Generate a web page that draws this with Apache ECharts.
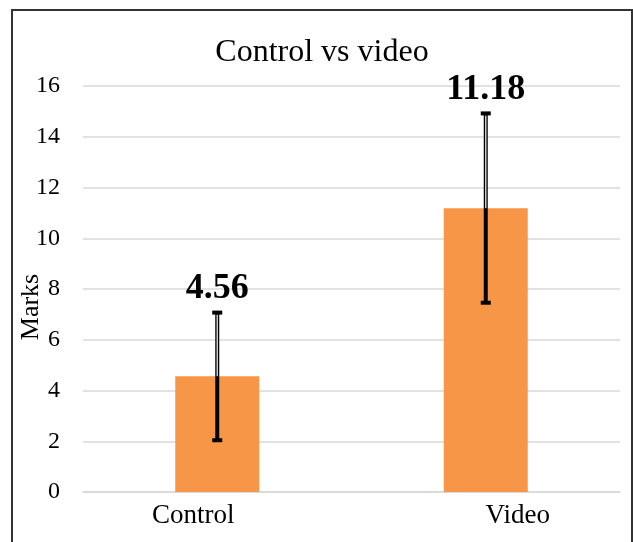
<!DOCTYPE html>
<html>
<head>
<meta charset="utf-8">
<script src="https://cdn.jsdelivr.net/npm/echarts@6/dist/echarts.min.js"></script>
<style>
  html, body { margin: 0; padding: 0; background: #fff; }
  #main { width: 633px; height: 542px; }
</style>
</head>
<body>
<div id="main"></div>
<script>
// data
const categories = ['Control', 'Video'];
const means = [4.56, 11.18];
const errLow = [2.04, 7.46];
const errHigh = [7.07, 14.92];
const yMax = 16;
const yStep = 2;

const serif = '"Liberation Serif", "Times New Roman", serif';

// error bar rows: [index, low, high, mean]
const errData = categories.map((c, i) => [i, errLow[i], errHigh[i], means[i]]);

const chart = echarts.init(document.getElementById('main'));

chart.setOption({
  animation: false,
  title: {
    text: 'Control vs video',
    left: 317,
    textAlign: 'center',
    top: 32,
    textStyle: { fontFamily: serif, fontSize: 32, fontWeight: 'normal', color: '#000' }
  },
  grid: { left: 83, right: 13, top: 86, bottom: 50, outerBoundsMode: 'none' },
  graphic: [{
    type: 'rect',
    shape: { x: 12, y: 10, width: 620, height: 540 },
    style: { fill: 'none', stroke: '#333', lineWidth: 2 },
    silent: true
  }],
  xAxis: {
    type: 'category',
    data: [
      { value: categories[0], textStyle: { padding: [0, 48, 0, 0] } },
      { value: categories[1], textStyle: { padding: [0, 0, 0, 64] } }
    ],
    axisLine: { lineStyle: { color: '#d9d9d9', width: 1.5 } },
    axisTick: { show: false },
    axisLabel: { fontFamily: serif, fontSize: 27, color: '#000', margin: 10 }
  },
  yAxis: {
    type: 'value',
    min: 0,
    max: yMax,
    interval: yStep,
    name: 'Marks',
    nameLocation: 'middle',
    nameRotate: 90,
    nameGap: 39,
    nameMoveOverlap: false,
    nameTextStyle: { fontFamily: serif, fontSize: 26, color: '#000', padding: [0, 36, 0, 0] },
    axisLine: { show: false },
    axisTick: { show: false },
    splitLine: { lineStyle: { color: '#d9d9d9', width: 1.5 } },
    axisLabel: { fontFamily: serif, fontSize: 24, color: '#000', margin: 23 }
  },
  series: [{
    type: 'bar',
    data: means,
    barWidth: 84,
    itemStyle: { color: '#f79646' }
  }, {
    type: 'custom',
    data: errData,
    z: 10,
    renderItem: function (params, api) {
      const x = api.coord([api.value(0), 0])[0];
      const yLow = api.coord([api.value(0), api.value(1)])[1];
      const yHigh = api.coord([api.value(0), api.value(2)])[1];
      const yMean = api.coord([api.value(0), api.value(3)])[1];
      return {
        type: 'group',
        children: [
          { type: 'line', shape: { x1: x, y1: yLow, x2: x, y2: yHigh }, style: { stroke: '#000', lineWidth: 4 } },
          { type: 'line', shape: { x1: x, y1: yMean, x2: x, y2: yHigh + 2 }, style: { stroke: '#c8c8c8', lineWidth: 1.5 } },
          { type: 'line', shape: { x1: x - 5, y1: yHigh, x2: x + 5, y2: yHigh }, style: { stroke: '#000', lineWidth: 4 } },
          { type: 'line', shape: { x1: x - 5, y1: yLow, x2: x + 5, y2: yLow }, style: { stroke: '#000', lineWidth: 4 } },
          {
            type: 'text', x: x, y: yHigh - 6,
            style: {
              text: api.value(3).toFixed(2),
              font: 'bold 36px ' + serif,
              fill: '#000',
              align: 'center',
              verticalAlign: 'bottom'
            }
          }
        ]
      };
    }
  }]
});
</script>
</body>
</html>
